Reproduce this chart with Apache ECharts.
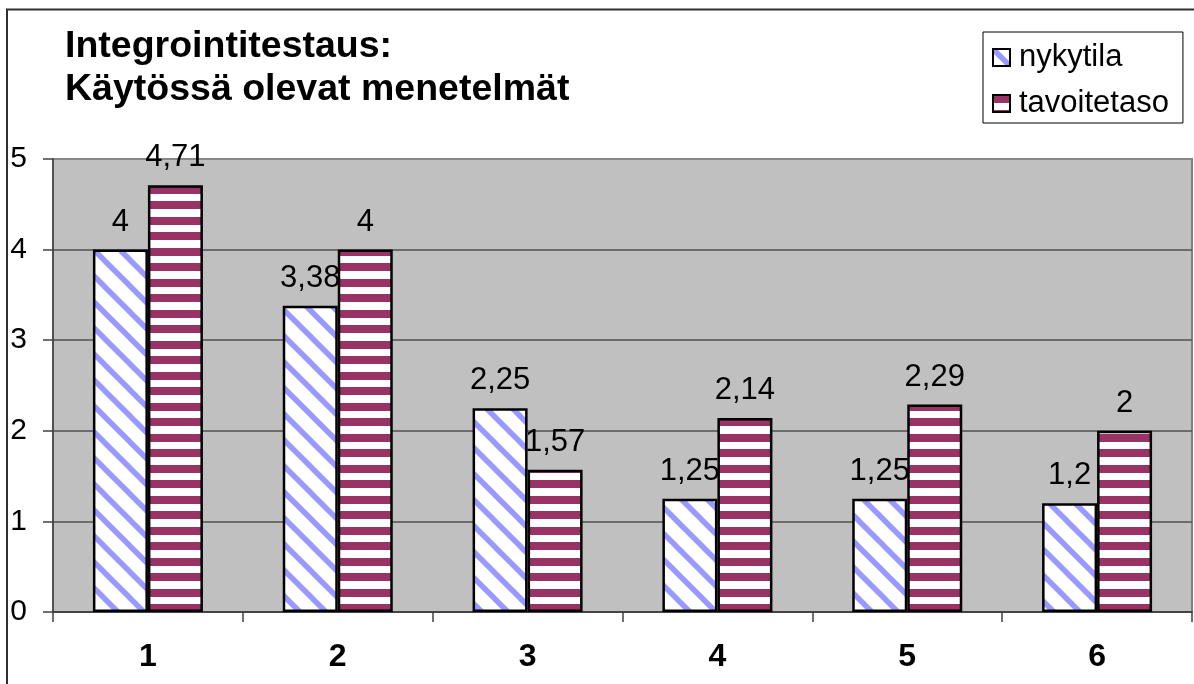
<!DOCTYPE html>
<html>
<head>
<meta charset="utf-8">
<script src="https://cdn.jsdelivr.net/npm/echarts@6/dist/echarts.min.js"></script>
<style>
  html, body { margin: 0; padding: 0; background: #ffffff; overflow: hidden; }
  #chart { width: 1194px; height: 684px; }
</style>
</head>
<body>
<div id="chart"></div>
<script>
const titleLines = ['Integrointitestaus:', 'Käytössä olevat menetelmät'];
const categories = ['1', '2', '3', '4', '5', '6'];
const seriesNames = ['nykytila', 'tavoitetaso'];
const nykytila = [4, 3.38, 2.25, 1.25, 1.25, 1.2];
const tavoitetaso = [4.71, 4, 1.57, 2.14, 2.29, 2];

const FONT = '"Liberation Sans", Arial, sans-serif';

// white fill with pale blue "\" diagonal bands
function diagonalTile() {
  const w = 26, h = 26;
  const c = document.createElement('canvas');
  c.width = w; c.height = h;
  const g = c.getContext('2d');
  g.fillStyle = '#ffffff';
  g.fillRect(0, 0, w, h);
  g.strokeStyle = '#9999ff';
  g.lineWidth = 5.5;
  for (let k = -1; k <= 1; k++) {
    g.beginPath();
    g.moveTo(k * w - w, -h);
    g.lineTo(k * w + 2 * w, 2 * h);
    g.stroke();
  }
  return c;
}

// plum fill with white horizontal bands
function stripeTile() {
  const w = 8, h = 31;
  const c = document.createElement('canvas');
  c.width = w; c.height = h;
  const g = c.getContext('2d');
  g.fillStyle = '#ffffff';
  g.fillRect(0, 0, w, h);
  g.fillStyle = '#993366';
  g.fillRect(0, 0, w, 8);
  g.fillRect(0, 15, w, 8);
  return c;
}

const fills = [
  { image: diagonalTile(), repeat: 'repeat' },
  { image: stripeTile(), repeat: 'repeat' }
];

const fmt = v => String(v).replace('.', ',');

const chart = echarts.init(document.getElementById('chart'), null, { renderer: 'canvas' });

const seriesData = [nykytila, tavoitetaso];

chart.setOption({
  backgroundColor: '#ffffff',
  animation: false,
  title: {
    text: titleLines.join('\n'),
    left: 65,
    top: 25,
    padding: 0,
    textStyle: {
      fontFamily: FONT,
      fontSize: 37.5,
      fontWeight: 'bold',
      color: '#000000',
      lineHeight: 43
    }
  },
  legend: {
    orient: 'vertical',
    left: 983,
    top: 32,
    padding: [10, 14, 4, 9],
    itemGap: 15,
    itemWidth: 17,
    itemHeight: 17,
    backgroundColor: '#ffffff',
    borderColor: '#000000',
    borderWidth: 1,
    borderRadius: 0,
    icon: 'rect',
    itemStyle: { borderColor: '#000000', borderWidth: 2 },
    textStyle: {
      fontFamily: FONT,
      fontSize: 31,
      color: '#000000',
      padding: [0, 0, 0, 4],
      lineHeight: 31
    },
    data: seriesNames
  },
  grid: {
    left: 53,
    right: 2,
    top: 159,
    bottom: 72,
    show: true,
    backgroundColor: '#c0c0c0',
    borderColor: '#808080',
    borderWidth: 2
  },
  xAxis: {
    type: 'category',
    data: categories,
    boundaryGap: true,
    axisLine: { show: true, lineStyle: { color: '#404040', width: 1.5 } },
    axisTick: { show: true, length: 10, lineStyle: { color: '#404040', width: 1.5 } },
    axisLabel: {
      margin: 29,
      fontFamily: FONT,
      fontSize: 32,
      fontWeight: 'bold',
      color: '#000000'
    },
    splitLine: { show: false }
  },
  yAxis: {
    type: 'value',
    min: 0,
    max: 5,
    interval: 1,
    axisLine: { show: true, lineStyle: { color: '#404040', width: 1.5 } },
    axisTick: { show: true, length: 10, lineStyle: { color: '#404040', width: 1.5 } },
    axisLabel: {
      margin: 26,
      fontFamily: FONT,
      fontSize: 30,
      color: '#000000',
      padding: [8, 0, 0, 0]
    },
    splitLine: {
      show: true,
      lineStyle: {
        color: ['#404040', '#505050', '#505050', '#505050', '#505050', '#8a8a8a'],
        width: 1.5
      }
    }
  },
  series: seriesNames.map((name, i) => ({
    name: name,
    type: 'bar',
    data: seriesData[i],
    barWidth: 55,
    barGap: '0%',
    itemStyle: {
      color: fills[i],
      borderColor: '#000000',
      borderWidth: 2.5
    },
    label: {
      show: true,
      position: 'top',
      distance: 12,
      fontFamily: FONT,
      fontSize: 31,
      color: '#000000',
      formatter: p => fmt(p.value)
    }
  })),
  graphic: [{
    type: 'rect',
    silent: true,
    z: 100,
    shape: { x: 7, y: 9.5, width: 2000, height: 2000 },
    style: { fill: 'none', stroke: '#303030', lineWidth: 2 }
  }]
});
</script>
</body>
</html>
